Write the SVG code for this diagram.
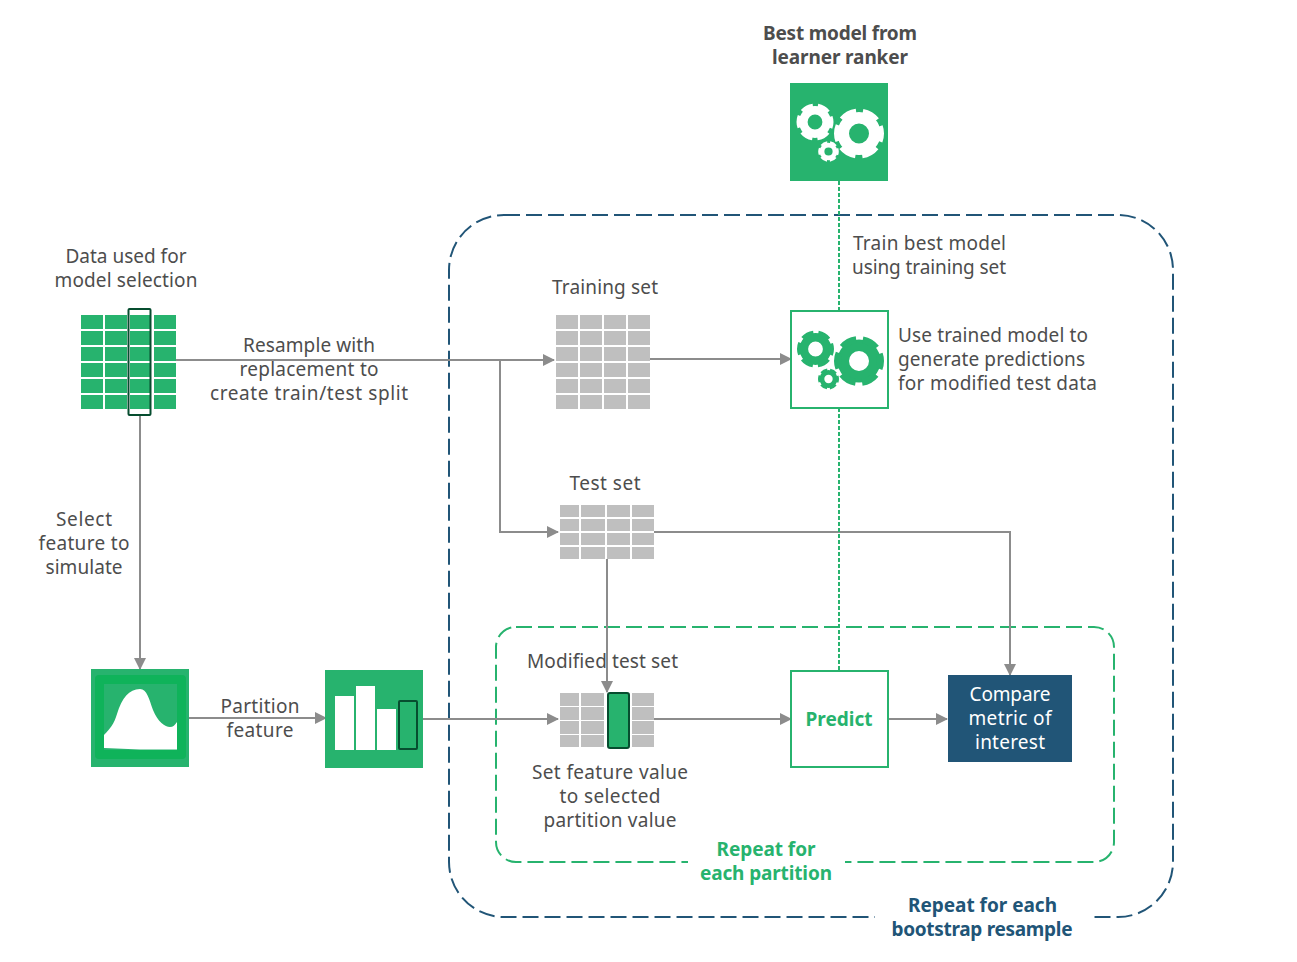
<svg xmlns="http://www.w3.org/2000/svg" xmlns:xlink="http://www.w3.org/1999/xlink" width="1297" height="962" viewBox="0 0 1297 962">
<style>
text{font-family:"Noto Sans","Open Sans",sans-serif;font-size:19px;fill:#4d4d4d;text-anchor:middle}
.l{text-anchor:start}
.b{font-weight:700}
.gt{fill:#27b36e}
.bt{fill:#215577}
.wt{fill:#fff}
.line{fill:none;stroke:#8c8c8c;stroke-width:2}
.dot{fill:none;stroke:#27b36e;stroke-width:2;stroke-dasharray:4 2}
.sel{fill:none;stroke:#064d2f;stroke-width:2}
.g{fill:#27b36e}
.c{fill:#bfbfbf}
</style>
<defs>
<marker id="a" markerUnits="userSpaceOnUse" markerWidth="12" markerHeight="12" refX="11" refY="6" orient="auto"><path d="M0 0L12 6L0 12Z" fill="#8c8c8c"/></marker>
<g id="gear" fill="none" stroke="currentColor">
<circle r="63" stroke-width="46"/>
<circle r="86" stroke-width="28" pathLength="60" stroke-dasharray="7 3" stroke-dashoffset="3.500"/>
</g>
</defs>
<rect width="1297" height="962" fill="#fff"/>
<g id="frames">
<rect x="449" y="215" width="724" height="702" rx="55" fill="none" stroke="#215577" stroke-width="2" stroke-dasharray="16 6"/>
<rect x="875" y="905" width="217" height="24" fill="#fff"/>
<rect x="496" y="627" width="618" height="235" rx="20" fill="none" stroke="#27b36e" stroke-width="2" stroke-dasharray="16 6"/>
<rect x="688" y="850" width="157" height="24" fill="#fff"/>
</g>
<g id="connectors">
<path class="line" marker-end="url(#a)" d="M176 360H554"/>
<path class="line" marker-end="url(#a)" d="M500 360V532H558"/>
<path class="line" marker-end="url(#a)" d="M650 359H791"/>
<path class="line" marker-end="url(#a)" d="M654 532H1010V675"/>
<path class="line" marker-end="url(#a)" d="M607 559V692"/>
<path class="line" marker-end="url(#a)" d="M140 415V669"/>
<path class="line" marker-end="url(#a)" d="M189 718H326"/>
<path class="line" marker-end="url(#a)" d="M423 719H558"/>
<path class="line" marker-end="url(#a)" d="M654 719H791"/>
<path class="line" marker-end="url(#a)" d="M888 719H947"/>
<path class="dot" d="M839 181V311"/>
<path class="dot" d="M839 408V671"/>
</g>
<g id="best-model">
<rect x="790" y="83" width="98" height="98" class="g"/>
<g color="#fff">
<use xlink:href="#gear" href="#gear" transform="translate(859 133.500) scale(.25)"/>
<use xlink:href="#gear" href="#gear" transform="translate(815 122) scale(.185)"/>
<use xlink:href="#gear" href="#gear" transform="translate(828.500 151.500) scale(.103)"/>
</g>
<text class="b" x="840" y="40" textLength="154">Best model from</text>
<text class="b" x="840" y="64" textLength="136">learner ranker</text>
</g>
<g id="data">
<g class="g">
<path d="M81 315h22v14h-22zM105 315h22v14h-22zM130 315h20v14h-20zM154 315h22v14h-22zM81 331h22v14h-22zM105 331h22v14h-22zM130 331h20v14h-20zM154 331h22v14h-22zM81 347h22v14h-22zM105 347h22v14h-22zM130 347h20v14h-20zM154 347h22v14h-22zM81 363h22v14h-22zM105 363h22v14h-22zM130 363h20v14h-20zM154 363h22v14h-22zM81 379h22v14h-22zM105 379h22v14h-22zM130 379h20v14h-20zM154 379h22v14h-22zM81 395h22v14h-22zM105 395h22v14h-22zM130 395h20v14h-20zM154 395h22v14h-22z"/>
</g>
<rect class="sel" x="128.500" y="309" width="22" height="106" rx="1"/>
<text x="126" y="263" textLength="121">Data used for</text>
<text x="126" y="287" textLength="143">model selection</text>
</g>
<g id="training-set">
<path class="c" d="M556 315h22v14h-22zM580 315h22v14h-22zM604 315h22v14h-22zM628 315h22v14h-22zM556 331h22v14h-22zM580 331h22v14h-22zM604 331h22v14h-22zM628 331h22v14h-22zM556 347h22v14h-22zM580 347h22v14h-22zM604 347h22v14h-22zM628 347h22v14h-22zM556 363h22v14h-22zM580 363h22v14h-22zM604 363h22v14h-22zM628 363h22v14h-22zM556 379h22v14h-22zM580 379h22v14h-22zM604 379h22v14h-22zM628 379h22v14h-22zM556 395h22v14h-22zM580 395h22v14h-22zM604 395h22v14h-22zM628 395h22v14h-22z"/>
<text x="605" y="294" textLength="106">Training set</text>
</g>
<g id="test-set">
<path class="c" d="M560 505h19v12h-19zM581 505h24v12h-24zM607 505h23v12h-23zM632 505h22v12h-22zM560 519h19v12h-19zM581 519h24v12h-24zM607 519h23v12h-23zM632 519h22v12h-22zM560 533h19v12h-19zM581 533h24v12h-24zM607 533h23v12h-23zM632 533h22v12h-22zM560 547h19v12h-19zM581 547h24v12h-24zM607 547h23v12h-23zM632 547h22v12h-22z"/>
<text x="605" y="490" textLength="71">Test set</text>
</g>
<g id="trained-model">
<rect x="791" y="311" width="97" height="97" fill="#fff" stroke="#27b36e" stroke-width="2"/>
<g color="#27b36e">
<use xlink:href="#gear" href="#gear" transform="translate(859 361) scale(.25)"/>
<use xlink:href="#gear" href="#gear" transform="translate(815.500 349) scale(.185)"/>
<use xlink:href="#gear" href="#gear" transform="translate(828.500 379) scale(.105)"/>
</g>
<text class="l" x="853" y="250" textLength="153">Train best model</text>
<text class="l" x="852" y="274" textLength="154">using training set</text>
<text class="l" x="898" y="342" textLength="190">Use trained model to</text>
<text class="l" x="898" y="366" textLength="187">generate predictions</text>
<text class="l" x="898" y="390" textLength="199">for modified test data</text>
</g>
<g id="density">
<rect x="91" y="669" width="98" height="98" class="g"/>
<rect x="95" y="675" width="91" height="84" rx="4" fill="#0fb35a"/>
<rect x="104" y="684" width="73" height="66" class="g"/>
<path fill="#fff" d="M104 735C110 729 114 724 117 714C122 698 129 689 140 689C147 689 149 699 153 710C158 722 165 727 170 727C173 727 175 725 177 722V749.500H140L104 748Z"/>
</g>
<g id="bars">
<rect x="325" y="670" width="98" height="98" class="g"/>
<path fill="#fff" d="M335 696h19v54h-19zM356 686h19v64h-19zM377 709h19v41h-19z"/>
<rect class="sel" x="399" y="701" width="18" height="48" rx="1"/>
</g>
<g id="modified-test-set">
<path class="c" d="M560 693h19v13h-19zM581 693h23v13h-23zM632 693h22v13h-22zM560 707h19v13h-19zM581 707h23v13h-23zM632 707h22v13h-22zM560 721h19v13h-19zM581 721h23v13h-23zM632 721h22v13h-22zM560 735h19v12h-19zM581 735h23v12h-23zM632 735h22v12h-22z"/>
<rect x="608" y="693" width="21" height="55" rx="2" fill="#27b36e" stroke="#064d2f" stroke-width="2"/>
<text x="602.500" y="668" textLength="151">Modified test set</text>
<text x="610" y="779" textLength="156">Set feature value</text>
<text x="610" y="803" textLength="101">to selected</text>
<text x="610" y="827" textLength="133">partition value</text>
</g>
<g id="predict">
<rect x="791" y="671" width="97" height="96" fill="#fff" stroke="#27b36e" stroke-width="2"/>
<text class="b gt" x="839" y="726" textLength="67">Predict</text>
</g>
<g id="compare">
<rect x="948" y="675" width="124" height="87" fill="#215577"/>
<text class="wt" x="1010" y="701" textLength="81">Compare</text>
<text class="wt" x="1010" y="725" textLength="83">metric of</text>
<text class="wt" x="1010" y="749" textLength="70">interest</text>
</g>
<g id="labels">
<text x="309" y="352" textLength="132">Resample with</text>
<text x="309" y="376" textLength="139">replacement to</text>
<text x="309" y="400" textLength="198">create train/test split</text>
<text x="84" y="526" textLength="56">Select</text>
<text x="84" y="550" textLength="91">feature to</text>
<text x="84" y="574" textLength="77">simulate</text>
<text x="260" y="713" textLength="79">Partition</text>
<text x="260" y="737" textLength="67">feature</text>
<text class="b gt" x="766" y="856" textLength="99">Repeat for</text>
<text class="b gt" x="766" y="880" textLength="132">each partition</text>
<text class="b bt" x="982.500" y="912" textLength="149">Repeat for each</text>
<text class="b bt" x="982" y="936" textLength="181">bootstrap resample</text>
</g>
</svg>
